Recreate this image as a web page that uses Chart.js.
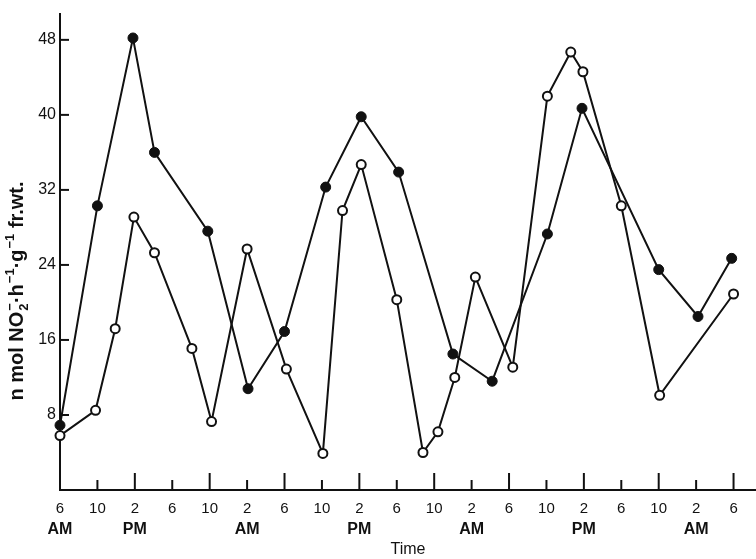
<!DOCTYPE html>
<html>
<head>
<meta charset="utf-8">
<script src="https://cdn.jsdelivr.net/npm/chart.js@4.4.0/dist/chart.umd.min.js"></script>
<style>
html,body{margin:0;padding:0;background:#fff;}
#wrap{width:756px;height:559px;}
</style>
</head>
<body>
<div id="wrap"><canvas id="nitriteChart"></canvas></div>
<script>
// hours counted from the first 6 AM sample
const aFilledHours=[0,4,7.8,10.1,15.8,20.1,24,28.4,32.2,36.2,42,46.2,52.1,55.8,64,68.2,71.8];
const aFilledValues=[6.9,30.3,48.2,36.0,27.6,10.8,16.9,32.3,39.8,33.9,14.5,11.6,27.3,40.7,23.5,18.5,24.7];
const aOpenHours=[0,3.8,5.9,7.9,10.1,14.1,16.2,20,24.2,28.1,30.2,32.2,36,38.8,40.4,42.2,44.4,48.4,52.1,54.6,55.9,60,64.1,72];
const aOpenValues=[5.8,8.5,17.2,29.1,25.3,15.1,7.3,25.7,12.9,3.9,29.8,34.7,20.3,4.0,6.2,12.0,22.7,13.1,42.0,46.7,44.6,30.3,10.1,20.9];

const aHourTicks=[0,4,8,12,16,20,24,28,32,36,40,44,48,52,56,60,64,68,72];
const aHourLabels=["6","10","2","6","10","2","6","10","2","6","10","2","6","10","2","6","10","2","6"];
const aDayTicks=[0,8,20,32,44,56,68];
const aDayLabels=["AM","PM","AM","PM","AM","PM","AM"];
const aValueTicks=[8,16,24,32,40,48];

// y title pieces: [text, kind] kind: n=normal, sup, st=stacked sub "2" with sup "-"
const aYTitle=[["n mol NO","n"],["2|\u2212","st"],["\u00B7h","n"],["\u22121","sup"],["\u00B7g","n"],["\u22121","sup"],[" fr.wt.","n"]];

const sInk="#111";
const sFont="'Liberation Sans', Arial, Helvetica, sans-serif";

function toPoints(aX,aY){
    return aX.map((x,i)=>({x:x,y:aY[i]}));
}

function drawYTitle(ctx){
    const sBig="bold 20px "+sFont;
    const sSmall="bold 13px "+sFont;
    let nTotal=0;
    const aWidths=aYTitle.map(p=>{
        let w;
        if(p[1]==="n"){ctx.font=sBig;w=ctx.measureText(p[0]).width;}
        else if(p[1]==="st"){ctx.font=sSmall;w=Math.max(...p[0].split("|").map(s=>ctx.measureText(s).width))+1;}
        else {ctx.font=sSmall;w=ctx.measureText(p[0]).width+1;}
        nTotal+=w;
        return w;
    });
    let x=-nTotal/2;
    ctx.textBaseline="alphabetic";
    ctx.textAlign="left";
    aYTitle.forEach((p,i)=>{
        if(p[1]==="n"){ctx.font=sBig;ctx.fillText(p[0],x,7);}
        else if(p[1]==="st"){
            const a=p[0].split("|");
            ctx.font=sSmall;
            ctx.fillText(a[0],x+1,12);
            ctx.fillText(a[1],x+1,-2);
        }else{ctx.font=sSmall;ctx.fillText(p[0],x+1,-2);}
        x+=aWidths[i];
    });
}

const tickMarks={
    id:"tickMarks",
    beforeDatasetsDraw(chart){
        const ctx=chart.ctx;
        const xScale=chart.scales.x;
        const yScale=chart.scales.y;
        const area=chart.chartArea;
        ctx.save();
        ctx.strokeStyle=sInk;
        ctx.lineWidth=2;
        aHourTicks.forEach((h,i)=>{
            if(h===0) return;
            const px=xScale.getPixelForValue(h);
            const len=(i%2===0)?17:10;
            ctx.beginPath();
            ctx.moveTo(px,area.bottom);
            ctx.lineTo(px,area.bottom-len);
            ctx.stroke();
        });
        aValueTicks.forEach(v=>{
            const py=yScale.getPixelForValue(v);
            ctx.beginPath();
            ctx.moveTo(area.left,py);
            ctx.lineTo(area.left+9,py);
            ctx.stroke();
        });
        ctx.restore();
    },
    afterDraw(chart){
        // y title sits lower than the axis middle in the original
        const ctx=chart.ctx;
        ctx.save();
        ctx.translate(16,291);
        ctx.rotate(-Math.PI/2);
        ctx.fillStyle=sInk;
        drawYTitle(ctx);
        ctx.restore();
    }
};

let data={
    datasets:[{
        label:"filled",
        data:toPoints(aFilledHours,aFilledValues),
        borderColor:sInk,
        borderWidth:2,
        pointRadius:5,
        pointBackgroundColor:sInk,
        pointBorderColor:sInk,
        pointBorderWidth:1,
        tension:0,
        clip:false
    },{
        label:"open",
        data:toPoints(aOpenHours,aOpenValues),
        borderColor:sInk,
        borderWidth:2,
        pointRadius:4.5,
        pointBackgroundColor:"#fff",
        pointBorderColor:sInk,
        pointBorderWidth:2,
        tension:0,
        clip:false
    }]
};

let config={
    type:"line",
    data:data,
    plugins:[tickMarks],
    options:{
        responsive:true,
        maintainAspectRatio:false,
        animation:false,
        layout:{autoPadding:false,padding:{top:8,left:0,right:0,bottom:0}},
        plugins:{
            legend:{display:false},
            tooltip:{enabled:false}
        },
        scales:{
            x:{
                type:"linear",
                position:"bottom",
                weight:0,
                min:0,
                max:74.4,
                afterBuildTicks:(scale)=>{scale.ticks=aHourTicks.map(v=>({value:v}));},
                afterFit:(scale)=>{scale.height=28;},
                grid:{display:false,drawTicks:false},
                border:{display:true,color:sInk,width:2},
                ticks:{
                    autoSkip:false,
                    maxRotation:0,
                    padding:10,
                    color:sInk,
                    font:{family:sFont,size:15},
                    callback:(value)=>aHourLabels[aHourTicks.indexOf(value)]
                }
            },
            x2:{
                type:"linear",
                position:"bottom",
                weight:1,
                min:0,
                max:74.4,
                afterBuildTicks:(scale)=>{scale.ticks=aDayTicks.map(v=>({value:v}));},
                afterFit:(scale)=>{scale.height=41;},
                grid:{display:false,drawTicks:false},
                border:{display:false},
                ticks:{
                    autoSkip:false,
                    maxRotation:0,
                    padding:2,
                    color:sInk,
                    font:{family:sFont,size:16,weight:"bold"},
                    callback:(value)=>aDayLabels[aDayTicks.indexOf(value)]
                },
                title:{
                    display:true,
                    text:"Time",
                    color:sInk,
                    font:{family:sFont,size:16},
                    padding:{top:0,bottom:0}
                }
            },
            y:{
                min:0,
                max:50.8,
                afterBuildTicks:(scale)=>{scale.ticks=aValueTicks.map(v=>({value:v}));},
                afterFit:(scale)=>{scale.width=60;},
                grid:{display:false,drawTicks:false},
                border:{display:true,color:sInk,width:2},
                ticks:{
                    padding:4,
                    color:sInk,
                    font:{family:sFont,size:16}
                }
            }
        }
    }
};

const nitriteChart=new Chart(document.getElementById("nitriteChart").getContext("2d"),config);
</script>
</body>
</html>
